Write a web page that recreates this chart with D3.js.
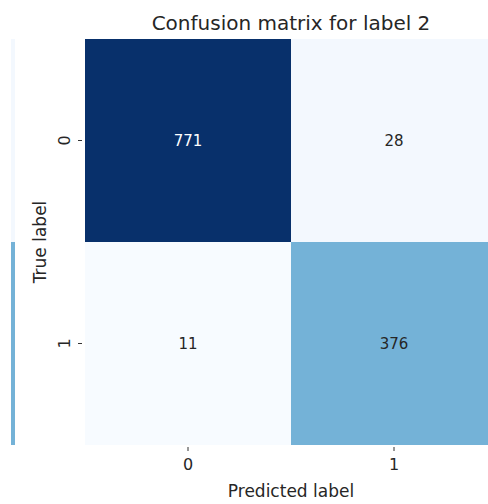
<!DOCTYPE html>
<html>
<head>
<meta charset="utf-8">
<script src="https://cdn.jsdelivr.net/npm/d3@7"></script>
<style>
  body { margin: 0; background: #fff; }
  text { font-family: "DejaVu Sans", sans-serif; }
</style>
</head>
<body>
<svg width="488" height="504"></svg>
<script>
// labels and counts
var trueLabels = ["0", "1"];
var predLabels = ["0", "1"];
var counts = [
  [771, 28],
  [11, 376]
];
var title = "Confusion matrix for label 2";

var margins = { top: 39, left: 85 };
var cellW = 206, cellH = 203;

var svg = d3.select("svg");

var cells = [];
counts.forEach(function(row, i) {
  row.forEach(function(v, j) {
    cells.push({ row: trueLabels[i], col: predLabels[j], value: v });
  });
});

var xScale = d3.scaleBand().domain(predLabels)
  .range([margins.left, margins.left + cellW * predLabels.length]);
var yScale = d3.scaleBand().domain(trueLabels)
  .range([margins.top, margins.top + cellH * trueLabels.length]);

var allVals = cells.map(function(d) { return d.value; });
var color = d3.scaleSequential(d3.interpolateBlues)
  .domain([d3.min(allVals), d3.max(allVals)]);

// sliver of a neighbouring panel at the left edge
svg.append("g").selectAll("rect")
  .data(cells.filter(function(d) { return d.col == "1"; }))
  .enter().append("rect")
  .attr("x", 11)
  .attr("width", 4)
  .attr("y", function(d) { return yScale(d.row); })
  .attr("height", yScale.bandwidth())
  .attr("fill", function(d) { return color(d.value); });

var plot = svg.append("g");
plot.selectAll("rect")
  .data(cells)
  .enter().append("rect")
  .attr("x", function(d) { return xScale(d.col); })
  .attr("y", function(d) { return yScale(d.row); })
  .attr("width", xScale.bandwidth())
  .attr("height", yScale.bandwidth())
  .attr("fill", function(d) { return color(d.value); });

plot.selectAll("text")
  .data(cells)
  .enter().append("text")
  .attr("x", function(d) { return xScale(d.col) + xScale.bandwidth() / 2; })
  .attr("y", function(d) { return yScale(d.row) + yScale.bandwidth() / 2; })
  .attr("text-anchor", "middle")
  .attr("dominant-baseline", "central")
  .attr("font-size", 15)
  .attr("fill", function(d) {
    return d.value > (d3.min(allVals) + d3.max(allVals)) / 2 ? "#ffffff" : "#262626";
  })
  .text(function(d) { return d.value; });

// axes
var xAxis = d3.axisBottom(xScale).tickSize(4).tickPadding(8);
var gx = svg.append("g")
  .attr("transform", "translate(0," + (margins.top + cellH * 2 + 2) + ")")
  .call(xAxis);
gx.select(".domain").remove();

var yAxis = d3.axisLeft(yScale).tickSize(4).tickPadding(7);
var gy = svg.append("g")
  .attr("transform", "translate(" + (margins.left - 3) + ",0)")
  .call(yAxis);
gy.select(".domain").remove();
gy.selectAll(".tick text")
  .attr("transform", "rotate(-90)")
  .attr("text-anchor", "middle")
  .attr("x", 0)
  .attr("y", -18)
  .attr("dy", "0.35em");

[gx, gy].forEach(function(g) {
  g.selectAll(".tick line").attr("stroke", "#333");
  g.selectAll(".tick text")
    .attr("font-size", 16)
    .attr("font-family", "DejaVu Sans, sans-serif")
    .attr("fill", "#262626");
});

svg.append("text")
  .attr("x", xScale.range()[0] + cellW)
  .attr("y", 30)
  .attr("text-anchor", "middle")
  .attr("font-size", 20)
  .attr("fill", "#262626")
  .text(title);

svg.append("text")
  .attr("x", xScale.range()[0] + cellW)
  .attr("y", 497)
  .attr("text-anchor", "middle")
  .attr("font-size", 17)
  .attr("fill", "#262626")
  .text("Predicted label");

svg.append("text")
  .attr("transform", "translate(46," + (margins.top + cellH) + ") rotate(-90)")
  .attr("text-anchor", "middle")
  .attr("font-size", 17)
  .attr("fill", "#262626")
  .text("True label");
</script>
</body>
</html>
